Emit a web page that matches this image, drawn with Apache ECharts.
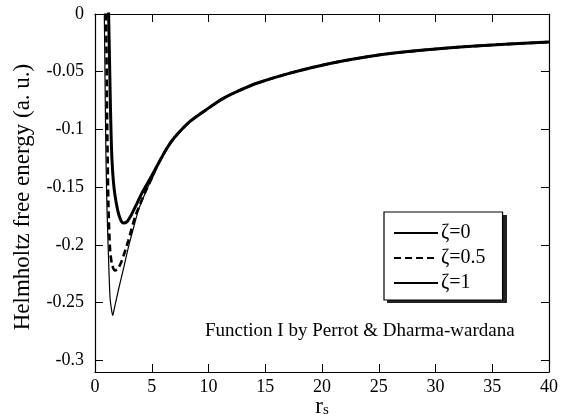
<!DOCTYPE html>
<html>
<head>
<meta charset="utf-8">
<script src="https://cdn.jsdelivr.net/npm/echarts@6/dist/echarts.min.js"></script>
<style>
html,body{margin:0;padding:0;background:#fff;}
#c{width:569px;height:419px;}
</style>
</head>
<body>
<div id="c"></div>
<script>
// ---- data ----
const seriesNames = ['ζ=0', 'ζ=0.5', 'ζ=1'];

const rsZeta0 = [0.79, 0.82, 0.86, 0.91, 0.97, 1.06, 1.17, 1.32, 1.44, 1.56, 1.68, 2.06, 2.5, 2.94, 3.4, 3.82, 4.3, 4.7, 5.2];
const fZeta0  = [0.01, 0, -0.035, -0.08, -0.127, -0.17, -0.205, -0.245, -0.255, -0.261, -0.256, -0.239, -0.221, -0.202, -0.185, -0.170, -0.158, -0.149, -0.139];

const rsZeta05 = [0.96, 1.0, 1.04, 1.08, 1.12, 1.18, 1.32, 1.5, 1.76, 2.0, 2.35, 2.94, 3.52, 4.0, 4.41, 5.0];
const fZeta05  = [0.01, -0.02, -0.06, -0.10, -0.13, -0.165, -0.203, -0.217, -0.222, -0.221, -0.214, -0.196, -0.176, -0.164, -0.1545, -0.142];

const rsZeta1 = [1.18, 1.24, 1.30, 1.36, 1.42, 1.50, 1.62, 1.76, 2.0, 2.25, 2.5, 2.8, 3.2, 3.6, 4.11, 4.6, 5.0];
const fZeta1  = [0.01, -0.02, -0.05, -0.08, -0.105, -0.127, -0.145, -0.157, -0.170, -0.178, -0.181, -0.180, -0.174, -0.166, -0.1555, -0.147, -0.140];

// common tail shared by the three curves
const rsTail = [5.5, 6.32, 7, 8.37, 10, 11.3, 12.5, 14.25, 17.18, 20.7, 25, 30, 35, 40];
const fTail  = [-0.131, -0.1165, -0.107, -0.0930, -0.0815, -0.0731, -0.0672, -0.0600, -0.0512, -0.0428, -0.0355, -0.0303, -0.0268, -0.0243];

const yTickValues = [0, -0.05, -0.1, -0.15, -0.2, -0.25, -0.3];
const xTickLabels = [0, 5, 10, 15, 20, 25, 30, 35, 40];
const annotation = 'Function I by Perrot & Dharma-wardana';

// ---- build ----
function pairs(xs, ys) {
  const out = [];
  for (let i = 0; i < xs.length; i++) out.push([xs[i], ys[i]]);
  for (let i = 0; i < rsTail.length; i++) out.push([rsTail[i], fTail[i]]);
  return out;
}
const FONT = "'Liberation Serif', 'DejaVu Serif', serif";

const chart = echarts.init(document.getElementById('c'), null, {renderer: 'canvas'});
const xMin = xTickLabels[0], xMax = xTickLabels[xTickLabels.length - 1];
const tickStyle = {show: true, inside: true, length: 8, lineStyle: {color: '#000', width: 1}};
const lineStyleAxis = {show: true, onZero: false, lineStyle: {color: '#000', width: 1.2}};

chart.setOption({
  animation: false,
  backgroundColor: '#fff',
  grid: {left: 95, right: 20, top: 14, bottom: 47, containLabel: false, outerBoundsMode: 'none'},
  xAxis: [{
    type: 'value', min: xMin, max: xMax, interval: 5, position: 'bottom',
    axisLine: lineStyleAxis, axisTick: tickStyle, splitLine: {show: false},
    axisLabel: {color: '#000', fontFamily: FONT, fontSize: 18, margin: 6},
    name: '{r|r}{s|s}', nameLocation: 'middle', nameGap: 23, nameMoveOverlap: false,
    nameTextStyle: {
      color: '#000', fontFamily: FONT,
      rich: {
        r: {fontFamily: FONT, fontSize: 23, lineHeight: 23, verticalAlign: 'top', color: '#000'},
        s: {fontFamily: FONT, fontSize: 15, lineHeight: 15, padding: [12, 0, 0, 0], verticalAlign: 'bottom', color: '#000'}
      }
    }
  }, {
    type: 'value', min: xMin, max: xMax, interval: 5, position: 'top',
    axisLine: lineStyleAxis, axisTick: tickStyle, splitLine: {show: false},
    axisLabel: {show: false}
  }],
  yAxis: [{
    type: 'value', min: -0.31, max: 0, position: 'left',
    axisLine: lineStyleAxis,
    axisTick: Object.assign({}, tickStyle, {customValues: yTickValues}),
    splitLine: {show: false},
    axisLabel: {color: '#000', fontFamily: FONT, fontSize: 18, margin: 11, customValues: yTickValues,
      formatter: v => String(+v.toFixed(2))},
    name: 'Helmholtz free energy (a. u.)', nameLocation: 'middle', nameGap: 61, nameRotate: 90,
    nameMoveOverlap: false,
    nameTextStyle: {color: '#000', fontFamily: FONT, fontSize: 23, padding: [0, 8, 0, 0]}
  }, {
    type: 'value', min: -0.31, max: 0, position: 'right',
    axisLine: lineStyleAxis,
    axisTick: Object.assign({}, tickStyle, {customValues: yTickValues}),
    splitLine: {show: false},
    axisLabel: {show: false}
  }],
  legend: {
    orient: 'vertical', left: 384, top: 212,
    data: seriesNames,
    itemWidth: 44, itemHeight: 10, itemGap: 5,
    padding: [11, 17, 7, 9],
    backgroundColor: '#fff', borderColor: '#000', borderWidth: 1.2, borderRadius: 0,
    itemStyle: {opacity: 0, color: 'rgba(0,0,0,0)', borderWidth: 0},
    textStyle: {color: '#000', fontFamily: FONT, fontSize: 20, lineHeight: 19, padding: [0, 0, 0, -2]},
    selectedMode: false, z: 10
  },
  graphic: [{
    // legend drop shadow
    type: 'rect', left: 387, top: 215, z: 5, silent: true,
    shape: {width: 120, height: 88},
    style: {fill: '#222'}
  }, {
    type: 'text', left: 205, top: 322, silent: true,
    style: {text: annotation, fill: '#000', font: "19px 'Liberation Serif', serif"}
  }],
  series: [{
    name: seriesNames[0], type: 'line', symbol: 'none', smooth: 0.25, clip: true,
    data: pairs(rsZeta0, fZeta0),
    lineStyle: {color: '#000', width: 1.2}, itemStyle: {color: '#000'}, z: 3
  }, {
    name: seriesNames[1], type: 'line', symbol: 'none', smooth: 0.25, clip: true,
    data: pairs(rsZeta05, fZeta05),
    lineStyle: {color: '#000', width: 2.6, type: [7, 4]}, itemStyle: {color: '#000'}, z: 4
  }, {
    name: seriesNames[2], type: 'line', symbol: 'none', smooth: 0.25, clip: true,
    data: pairs(rsZeta1, fZeta1),
    lineStyle: {color: '#000', width: 3}, itemStyle: {color: '#000'}, z: 5
  }]
});
</script>
</body>
</html>
